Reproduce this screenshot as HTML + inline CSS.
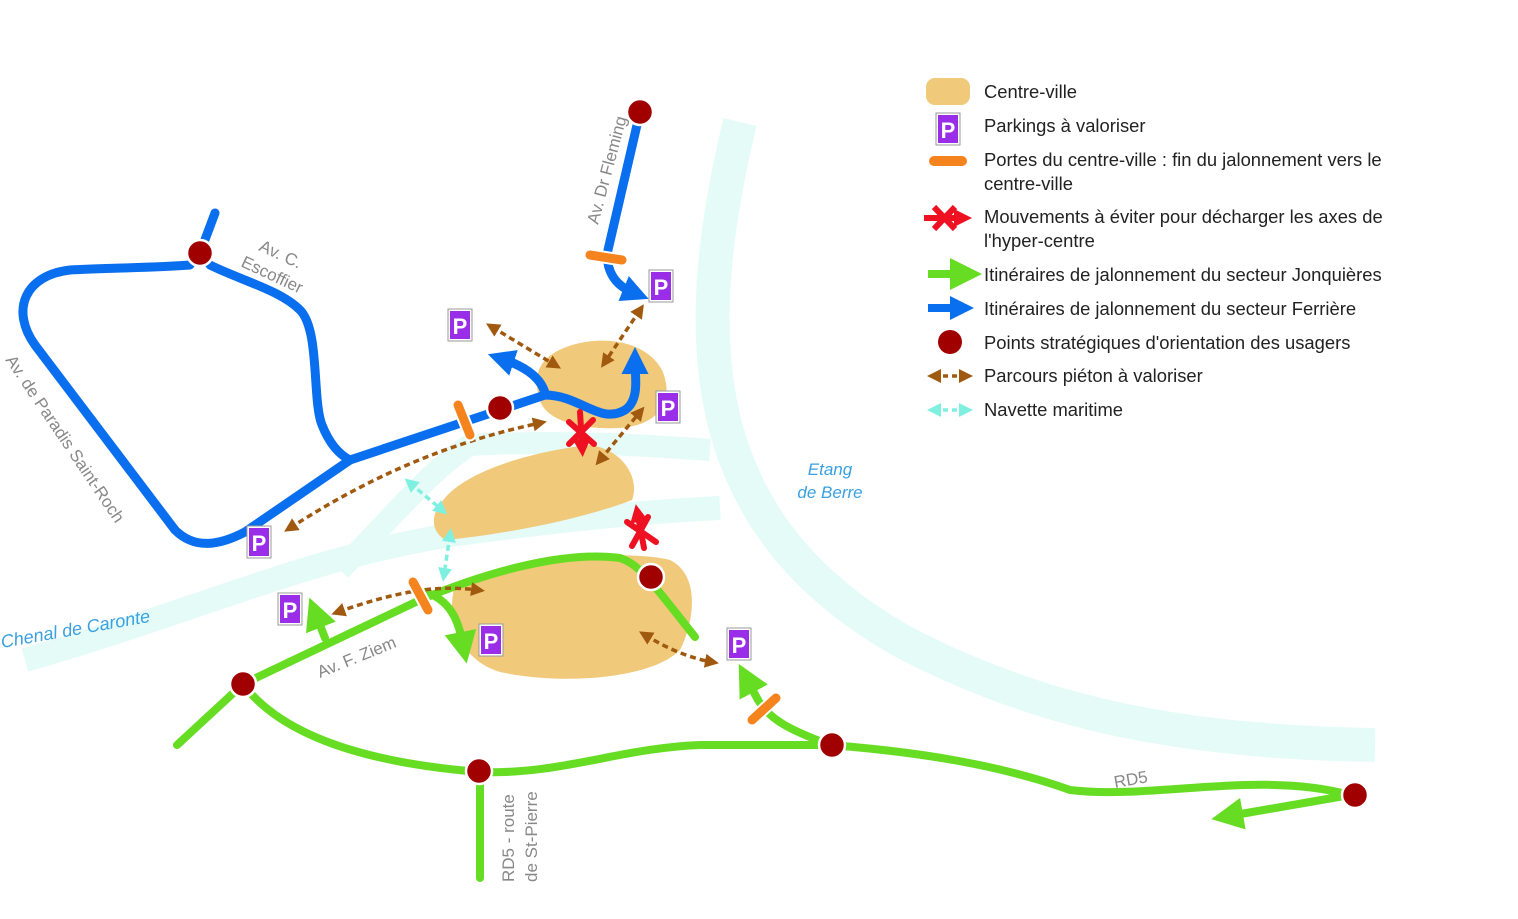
<!DOCTYPE html>
<html><head><meta charset="utf-8"><style>
body{margin:0;background:#fff;}
svg{display:block;}
text{font-family:"Liberation Sans",sans-serif;}
.leg{font-size:18.4px;fill:#222;}
.road{font-size:17px;fill:#888;}
</style></head><body>
<svg width="1518" height="919" viewBox="0 0 1518 919" xmlns="http://www.w3.org/2000/svg">
<defs>
<marker id="bA" markerWidth="4" markerHeight="4" refX="1" refY="2" orient="auto" markerUnits="strokeWidth"><path d="M0,0 L4,2 L0,4 L1,2Z" fill="#0a6fee" transform="translate(-1,0)"/></marker>
<marker id="gA" markerWidth="4" markerHeight="4" refX="1" refY="2" orient="auto" markerUnits="strokeWidth"><path d="M0,0 L4,2 L0,4 Z" fill="#66dd22"/></marker>
<marker id="brA" markerWidth="4" markerHeight="4" refX="2" refY="2" orient="auto-start-reverse" markerUnits="strokeWidth"><path d="M0,0 L4,2 L0,4 Z" fill="#a05a10"/></marker>
<marker id="cA" markerWidth="4" markerHeight="4" refX="2" refY="2" orient="auto-start-reverse" markerUnits="strokeWidth"><path d="M0,0 L4,2 L0,4 Z" fill="#7ff0e0"/></marker>
<marker id="rA" markerWidth="3" markerHeight="3" refX="1" refY="1.5" orient="auto" markerUnits="strokeWidth"><path d="M0,0 L3,1.5 L0,3 Z" fill="#ee1122"/></marker>
<g id="P"><rect x="-12" y="-16" width="24" height="32" fill="#fff" stroke="#999" stroke-width="1"/><rect x="-10" y="-14" width="20" height="28" fill="#9a2ee8"/><text x="0" y="9" text-anchor="middle" font-size="22" font-weight="bold" fill="#fff" font-family="Liberation Sans,sans-serif">P</text></g>
</defs>
<!-- water -->
<g fill="none" stroke="#e4fbf8" stroke-linecap="butt">
<path d="M740,122 C690,330 690,520 900,640 C1050,720 1200,742 1375,745" stroke-width="34"/>
<path d="M25,660 C200,610 300,560 450,535 C560,520 640,512 720,508" stroke-width="24"/>
<path d="M340,570 C390,520 430,470 470,445 C560,440 640,445 710,450" stroke-width="22"/>
</g>
<!-- centre-ville blobs -->
<g fill="#f0c97a">
<path d="M545,360 C570,335 640,330 662,370 C675,400 660,425 620,428 C580,430 545,420 540,400 C535,385 535,372 545,360Z"/>
<path d="M440,505 C460,470 540,450 590,445 C625,450 640,480 632,500 C580,520 500,535 445,540 C430,530 432,515 440,505Z"/>
<path d="M455,585 C520,560 620,548 670,560 C700,575 695,620 680,650 C650,680 560,685 500,672 C460,660 445,620 455,585Z"/>
</g>
<!-- blue routes -->
<g fill="none" stroke="#0a6fee" stroke-width="9" stroke-linecap="round" stroke-linejoin="round">
<path d="M215,213 L200,253"/>
<path d="M190,265 C150,268 100,268 70,270 C25,275 10,310 35,345 L175,530 C195,550 220,545 245,532 L350,460 L470,420 L545,395 C580,395 600,425 625,410 C640,400 635,375 635,365" marker-end="url(#bA)"/>
<path d="M210,265 C240,280 280,290 300,310 C320,330 312,400 322,425 C330,445 340,455 350,460"/>
<path d="M545,393 C540,375 520,365 505,360" marker-end="url(#bA)"/>
<path d="M640,112 L608,250 C605,270 615,285 632,292" marker-end="url(#bA)"/>
</g>
<!-- green routes -->
<g fill="none" stroke="#66dd22" stroke-width="8" stroke-linecap="round" stroke-linejoin="round">
<path d="M177,745 L243,684 L420,600 C480,575 560,550 620,558 C640,565 650,580 695,637"/>
<path d="M425,592 C450,600 458,620 462,640" marker-end="url(#gA)"/>
<path d="M325,638 L318,620" marker-end="url(#gA)"/>
<path d="M243,684 C270,720 330,760 480,772 C560,775 620,748 700,745 L830,745 C920,752 1000,765 1070,790 C1150,800 1260,770 1350,795 L1235,815" marker-end="url(#gA)"/>
<path d="M830,745 C790,730 770,720 758,700 L750,685" marker-end="url(#gA)"/>
<path d="M480,772 L480,878"/>
</g>
<!-- pedestrian -->
<g fill="none" stroke="#a05a10" stroke-width="3.5" stroke-dasharray="6,4">
<path d="M492,327 L555,365" marker-start="url(#brA)" marker-end="url(#brA)"/>
<path d="M640,310 L605,362" marker-start="url(#brA)" marker-end="url(#brA)"/>
<path d="M600,460 L640,412" marker-start="url(#brA)" marker-end="url(#brA)"/>
<path d="M290,528 C380,470 460,440 540,423" marker-start="url(#brA)" marker-end="url(#brA)"/>
<path d="M338,612 C400,590 440,585 478,590" marker-start="url(#brA)" marker-end="url(#brA)"/>
<path d="M645,635 C670,650 690,658 712,662" marker-start="url(#brA)" marker-end="url(#brA)"/>
</g>
<g fill="none" stroke="#7ff0e0" stroke-width="3.5" stroke-dasharray="6,4">
<path d="M410,483 L442,510" marker-start="url(#cA)" marker-end="url(#cA)"/>
<path d="M450,535 L444,575" marker-start="url(#cA)" marker-end="url(#cA)"/>
</g>
<!-- red X -->
<g stroke="#ee1122" stroke-width="6" fill="none" stroke-linecap="round">
<path d="M580,412 L582,445" marker-end="url(#rA)"/>
<path d="M569,422 L594,444 M593,420 L569,444"/>
<path d="M644,548 L638,516" marker-end="url(#rA)"/>
<path d="M627,522 L656,542 M648,517 L632,546"/>
</g>
<!-- gates -->
<g stroke="#fff" stroke-width="13" stroke-linecap="round">
<path d="M458,405 L470,435"/><path d="M590,255 L622,260"/><path d="M413,582 L428,610"/><path d="M752,720 L776,698"/>
</g>
<g stroke="#f5841f" stroke-width="9" stroke-linecap="round">
<path d="M458,405 L470,435"/><path d="M590,255 L622,260"/><path d="M413,582 L428,610"/><path d="M752,720 L776,698"/>
</g>
<!-- dots -->
<g fill="#a00000" stroke="#fff" stroke-width="2.5">
<circle cx="640" cy="112" r="13"/><circle cx="200" cy="253" r="13"/><circle cx="500" cy="408" r="13"/>
<circle cx="651" cy="577" r="13"/><circle cx="243" cy="684" r="13"/><circle cx="479" cy="771" r="13"/>
<circle cx="832" cy="745" r="13"/><circle cx="1355" cy="795" r="13"/>
</g>
<!-- parkings -->
<use href="#P" x="661" y="286"/><use href="#P" x="460" y="325"/><use href="#P" x="668" y="407"/>
<use href="#P" x="259" y="542"/><use href="#P" x="290" y="609"/><use href="#P" x="491" y="640"/><use href="#P" x="739" y="644"/>
<!-- labels -->
<text class="road" transform="translate(598,225) rotate(-75)">Av. Dr Fleming</text>
<text class="road" transform="translate(258,250) rotate(25)">Av. C.</text>
<text class="road" transform="translate(240,266) rotate(25)">Escoffier</text>
<text class="road" transform="translate(5,360) rotate(56)">Av. de Paradis Saint-Roch</text>
<text class="road" transform="translate(320,678) rotate(-22)">Av. F. Ziem</text>
<text class="road" transform="translate(1115,788) rotate(-10)">RD5</text>
<text class="road" transform="translate(514,882) rotate(-90)">RD5 - route</text>
<text class="road" transform="translate(537,882) rotate(-90)">de St-Pierre</text>
<text transform="translate(2,648) rotate(-10)" font-size="18" font-style="italic" fill="#3aa0e0">Chenal de Caronte</text>
<text x="830" y="475" text-anchor="middle" font-size="17" font-style="italic" fill="#3aa0e0">Etang</text>
<text x="830" y="498" text-anchor="middle" font-size="17" font-style="italic" fill="#3aa0e0">de Berre</text>
<!-- legend -->
<rect x="926" y="78" width="44" height="27" rx="9" fill="#f0c97a"/>
<use href="#P" x="948" y="129"/>
<path d="M934,161 L962,161" stroke="#f5841f" stroke-width="10" stroke-linecap="round"/>
<g stroke="#ee1122" stroke-width="6" fill="none"><path d="M924,218 L960,218" marker-end="url(#rA)"/><path d="M934,207 L955,229 M955,207 L934,229"/></g>
<path d="M928,274 L958,274" stroke="#66dd22" stroke-width="8" marker-end="url(#gA)"/>
<path d="M928,308 L958,308" stroke="#0a6fee" stroke-width="8" marker-end="url(#bA)"/>
<circle cx="950" cy="342" r="12" fill="#a00000"/>
<path d="M934,376 L966,376" stroke="#a05a10" stroke-width="3.5" stroke-dasharray="5,4" marker-start="url(#brA)" marker-end="url(#brA)"/>
<path d="M934,410 L966,410" stroke="#7ff0e0" stroke-width="3.5" stroke-dasharray="5,4" marker-start="url(#cA)" marker-end="url(#cA)"/>
<text class="leg" x="984" y="98">Centre-ville</text>
<text class="leg" x="984" y="132">Parkings à valoriser</text>
<text class="leg" x="984" y="166">Portes du centre-ville : fin du jalonnement vers le</text>
<text class="leg" x="984" y="190">centre-ville</text>
<text class="leg" x="984" y="223">Mouvements à éviter pour décharger les axes de</text>
<text class="leg" x="984" y="247">l'hyper-centre</text>
<text class="leg" x="984" y="281">Itinéraires de jalonnement du secteur Jonquières</text>
<text class="leg" x="984" y="315">Itinéraires de jalonnement du secteur Ferrière</text>
<text class="leg" x="984" y="349">Points stratégiques d'orientation des usagers</text>
<text class="leg" x="984" y="382">Parcours piéton à valoriser</text>
<text class="leg" x="984" y="416">Navette maritime</text>
</svg>
</body></html>
